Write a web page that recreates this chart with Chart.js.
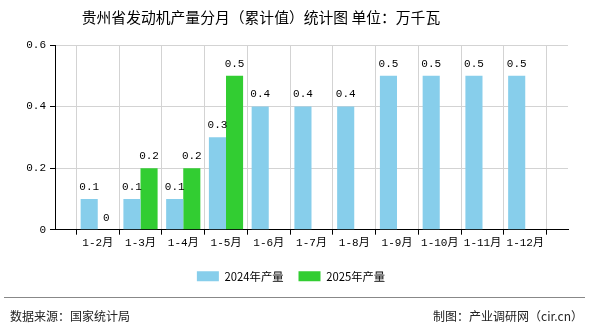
<!DOCTYPE html>
<html>
<head>
<meta charset="utf-8">
<script src="https://cdn.jsdelivr.net/npm/chart.js@4.4.1/dist/chart.umd.min.js"></script>
<style>
    body { margin: 0; background: #fff; }
    #wrap { position: relative; width: 590px; height: 330px; }
    #title { position: absolute; left: 0; width: 522px; top: 6px; text-align: center; font: 14.8px "Noto Sans CJK SC"; color: #000; }
    #footLine { position: absolute; left: 4px; right: 5px; top: 297px; border-top: 1px solid #888; }
    #srcL { position: absolute; left: 10px; top: 307px; font: 12px "Noto Sans CJK SC"; color: #222; }
    #srcR { position: absolute; right: 7px; top: 307px; font: 12px "Noto Sans CJK SC"; color: #222; }
</style>
</head>
<body>
<div id="wrap">
    <canvas id="chart" width="590" height="330"></canvas>
    <div id="title">贵州省发动机产量分月（累计值）统计图 单位：万千瓦</div>
    <div id="footLine"></div>
    <div id="srcL">数据来源：国家统计局</div>
    <div id="srcR">制图：产业调研网（cir.cn）</div>
</div>
<script>
// Chart data
const months = ['1-2月', '1-3月', '1-4月', '1-5月', '1-6月', '1-7月', '1-8月', '1-9月', '1-10月', '1-11月', '1-12月'];
const output2024 = [0.1, 0.1, 0.1, 0.3, 0.4, 0.4, 0.4, 0.5, 0.5, 0.5, 0.5];
const output2025 = [0, 0.2, 0.2, 0.5];
const yTicks = [0, 0.2, 0.4, 0.6];

const numFont = { family: '"Liberation Mono", "Noto Sans CJK SC"', size: 11 };

// empty slot at each end so the months sit on the grid lines
const labels = [''].concat(months, ['']);
function padSeries(values) {
    const out = [null];
    months.forEach((m, i) => out.push(values[i] === undefined ? null : values[i]));
    out.push(null);
    return out;
}

// Value labels above each bar
const valueLabels = {
    id: 'valueLabels',
    afterDatasetsDraw(chart) {
        const ctx = chart.ctx;
        ctx.save();
        ctx.font = '11px "Liberation Mono", monospace';
        ctx.fillStyle = '#000';
        ctx.textAlign = 'center';
        ctx.textBaseline = 'middle';
        chart.data.datasets.forEach((ds, di) => {
            chart.getDatasetMeta(di).data.forEach((bar, i) => {
                const v = ds.data[i];
                if (v === null || v === undefined) return;
                ctx.fillText(String(v), bar.x, bar.y - 12);
            });
        });
        ctx.restore();
    }
};

new Chart(document.getElementById('chart'), {
    type: 'bar',
    data: {
        labels: labels,
        datasets: [
            { label: '2024年产量', data: padSeries(output2024), backgroundColor: '#87CEEB' },
            { label: '2025年产量', data: padSeries(output2025), backgroundColor: '#32CD32' }
        ]
    },
    options: {
        responsive: false,
        animation: false,
        layout: { padding: { top: 45, left: 14, right: 22, bottom: 38 } },
        datasets: { bar: { categoryPercentage: 0.8, barPercentage: 1.0 } },
        scales: {
            x: {
                offset: false,
                grid: { color: '#d3d3d3', tickColor: '#000', tickLength: 5 },
                border: { color: '#000' },
                ticks: { color: '#000', font: numFont, maxRotation: 0, autoSkip: false, padding: 2 },
                afterFit(scale) { scale.height = 26; }
            },
            y: {
                min: 0,
                max: 0.6,
                grid: { color: '#d3d3d3', tickColor: '#000', tickLength: 5 },
                border: { color: '#000' },
                afterBuildTicks(scale) { scale.ticks = yTicks.map(v => ({ value: v })); },
                ticks: { color: '#000', font: numFont, padding: 4 },
                afterFit(scale) { scale.width = 41; }
            }
        },
        plugins: {
            legend: {
                position: 'bottom',
                labels: {
                    boxWidth: 22,
                    boxHeight: 10,
                    padding: 15,
                    color: '#000',
                    font: { family: '"Noto Sans CJK SC"', size: 11.3 }
                }
            },
            title: { display: false },
            tooltip: { enabled: false }
        }
    },
    plugins: [valueLabels]
});
</script>
</body>
</html>
